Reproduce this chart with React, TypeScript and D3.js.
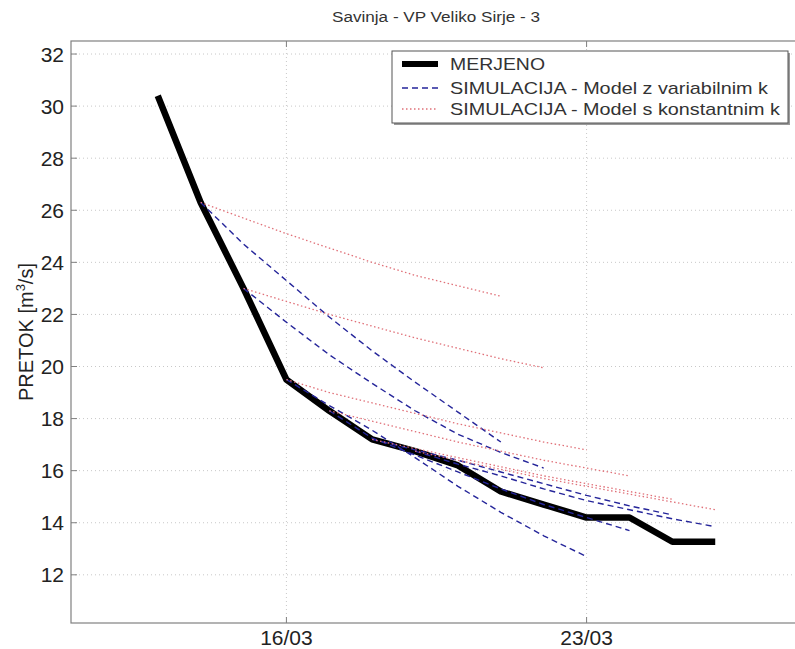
import React from "react";
import * as d3 from "d3";

// ---- data (days of March) ----
const measuredDays = [13, 14, 15, 16, 17, 18, 19, 20, 21, 22, 23, 24, 25, 26];
const measured = [30.4, 26.3, 23.0, 19.5, 18.3, 17.2, 16.75, 16.2, 15.2, 14.7, 14.2, 14.2, 13.27, 13.27];

// simulation start days (each run covers start .. start+7)
const simStarts = [14, 15, 16, 17, 18, 19];

// model with variable k (blue dashed)
const varK14 = [26.3, 24.7, 23.3, 21.9, 20.6, 19.4, 18.25, 17.1];
const varK15 = [23.0, 21.7, 20.45, 19.35, 18.3, 17.4, 16.7, 16.1];
const varK16 = [19.5, 18.5, 17.55, 16.5, 15.4, 14.4, 13.5, 12.7];
const varK17 = [18.3, 17.25, 16.6, 15.95, 15.3, 14.7, 14.2, 13.7];
const varK18 = [17.2, 16.8, 16.4, 15.95, 15.5, 15.05, 14.65, 14.3];
const varK19 = [16.75, 16.25, 15.8, 15.3, 14.85, 14.5, 14.15, 13.85];

// model with constant k (red dotted)
const constK14 = [26.3, 25.7, 25.1, 24.55, 24.0, 23.5, 23.1, 22.7];
const constK15 = [23.0, 22.5, 22.0, 21.55, 21.1, 20.7, 20.3, 19.95];
const constK16 = [19.5, 19.0, 18.6, 18.2, 17.8, 17.45, 17.1, 16.8];
const constK17 = [18.3, 17.9, 17.5, 17.1, 16.75, 16.4, 16.1, 15.8];
const constK18 = [17.2, 16.85, 16.5, 16.15, 15.8, 15.5, 15.2, 14.9];
const constK19 = [16.75, 16.4, 16.05, 15.7, 15.4, 15.1, 14.8, 14.5];

const varKRuns = [varK14, varK15, varK16, varK17, varK18, varK19];
const constKRuns = [constK14, constK15, constK16, constK17, constK18, constK19];

const yTicks = [12, 14, 16, 18, 20, 22, 24, 26, 28, 30, 32];
const xTicks = [16, 23];
const xTickLabels = ["16/03", "23/03"];

const title = "Savinja - VP Veliko Sirje - 3";
const legendLabels = [
  "MERJENO",
  "SIMULACIJA - Model z variabilnim k",
  "SIMULACIJA - Model s konstantnim k",
];

const W = 795;
const H = 649;
const FONT = "'Liberation Sans', Arial, Helvetica, sans-serif";

export default function App() {
  const left = 71;
  const right = 801;
  const top = 41;
  const bottom = 623;

  const x = d3.scaleLinear().domain([11, 28]).range([left + 1, right]);
  const y = d3.scaleLinear().domain([10.15, 32.5]).range([bottom, top]);

  const line = d3
    .line<[number, number]>()
    .x((d) => x(d[0]))
    .y((d) => y(d[1]));

  const runPts = (start: number, vals: number[]): [number, number][] =>
    vals.map((v, i) => [start + i, v]);

  const measuredPts: [number, number][] = measuredDays.map((d, i) => [d, measured[i]]);

  const blue = "#25259a";
  const red = "#e07078";
  const gridColor = "#c8c8c8";
  const axisColor = "#808080";

  const lx = 392;
  const ly = 51;

  return (
    <svg
      width={W}
      height={H}
      style={{ position: "fixed", left: 0, top: 0, background: "#fff" }}
      fontFamily={FONT}
    >
      <rect x={0} y={0} width={W} height={H} fill="#fff" />
      <defs>
        <clipPath id="plot">
          <rect x={left} y={top} width={right - left} height={bottom - top} />
        </clipPath>
      </defs>

      {/* grid */}
      {yTicks.map((t) => (
        <line
          key={"gy" + t}
          x1={left}
          x2={right}
          y1={y(t)}
          y2={y(t)}
          stroke={gridColor}
          strokeWidth={1}
          strokeDasharray="1,3"
        />
      ))}
      {xTicks.map((t) => (
        <line
          key={"gx" + t}
          x1={x(t)}
          x2={x(t)}
          y1={top}
          y2={bottom}
          stroke={gridColor}
          strokeWidth={1}
          strokeDasharray="1,3"
        />
      ))}

      <g clipPath="url(#plot)">
        <path
          d={line(measuredPts) || ""}
          fill="none"
          stroke="#000"
          strokeWidth={6.5}
          strokeLinejoin="round"
        />
        {varKRuns.map((vals, i) => (
          <path
            key={"v" + i}
            d={line(runPts(simStarts[i], vals)) || ""}
            fill="none"
            stroke={blue}
            strokeWidth={1.4}
            strokeDasharray="6,4"
          />
        ))}
        {constKRuns.map((vals, i) => (
          <path
            key={"c" + i}
            d={line(runPts(simStarts[i], vals)) || ""}
            fill="none"
            stroke={red}
            strokeWidth={1.3}
            strokeDasharray="1.5,2.5"
          />
        ))}
      </g>

      {/* axes box */}
      <rect
        x={left}
        y={top}
        width={right - left}
        height={bottom - top}
        fill="none"
        stroke={axisColor}
        strokeWidth={1.2}
      />
      {/* y ticks */}
      {yTicks.map((t) => (
        <g key={"yt" + t}>
          <line x1={left} x2={left + 6} y1={y(t)} y2={y(t)} stroke={axisColor} strokeWidth={1} />
          <text
            x={64}
            y={y(t)}
            textAnchor="end"
            dominantBaseline="central"
            fontSize={21}
            fill="#222"
          >
            {t}
          </text>
        </g>
      ))}
      {/* x ticks */}
      {xTicks.map((t, i) => (
        <g key={"xt" + t}>
          <line x1={x(t)} x2={x(t)} y1={bottom} y2={bottom - 6} stroke={axisColor} strokeWidth={1} />
          <line x1={x(t)} x2={x(t)} y1={top} y2={top + 6} stroke={axisColor} strokeWidth={1} />
          <text x={x(t)} y={bottom + 22} textAnchor="middle" fontSize={21} fill="#222">
            {xTickLabels[i]}
          </text>
        </g>
      ))}

      {/* title */}
      <text
        x={(left + right) / 2}
        y={22}
        textAnchor="middle"
        fontSize={14}
        fill="#333"
        textLength={208}
        lengthAdjust="spacingAndGlyphs"
      >
        {title}
      </text>

      {/* y label */}
      <text
        transform={`translate(33, ${(top + bottom) / 2}) rotate(-90)`}
        textAnchor="middle"
        fontSize={20}
        fill="#222"
      >
        PRETOK [m<tspan dy={-8} fontSize={13}>3</tspan>
        <tspan dy={8}>/s]</tspan>
      </text>

      {/* legend */}
      <rect x={lx + 2} y={ly + 2} width={396} height={72} fill="#999" />
      <rect x={lx} y={ly} width={396} height={72} fill="#fff" stroke="#555" strokeWidth={1} />
      <line x1={lx + 10} x2={lx + 46} y1={ly + 13} y2={ly + 13} stroke="#000" strokeWidth={6} />
      <line
        x1={lx + 10}
        x2={lx + 46}
        y1={ly + 37}
        y2={ly + 37}
        stroke={blue}
        strokeWidth={1.4}
        strokeDasharray="6,4"
      />
      <line
        x1={lx + 10}
        x2={lx + 46}
        y1={ly + 58}
        y2={ly + 58}
        stroke={red}
        strokeWidth={1.3}
        strokeDasharray="1.5,2.5"
      />
      <text x={lx + 58} y={ly + 19} fontSize={17} fill="#333" textLength={95} lengthAdjust="spacingAndGlyphs">
        {legendLabels[0]}
      </text>
      <text x={lx + 58} y={ly + 43} fontSize={17} fill="#333" textLength={318} lengthAdjust="spacingAndGlyphs">
        {legendLabels[1]}
      </text>
      <text x={lx + 58} y={ly + 64} fontSize={17} fill="#333" textLength={330} lengthAdjust="spacingAndGlyphs">
        {legendLabels[2]}
      </text>
    </svg>
  );
}
